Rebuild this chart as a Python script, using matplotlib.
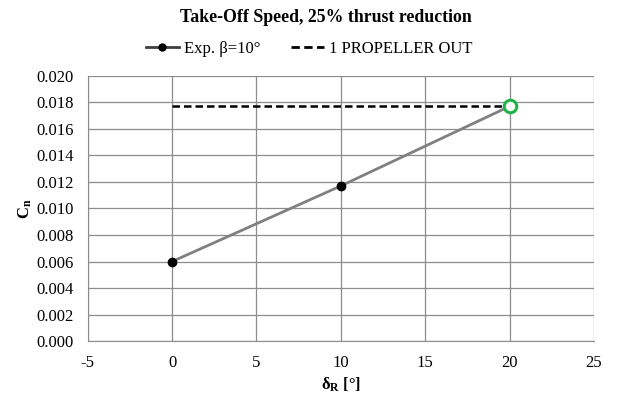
import matplotlib.pyplot as plt

plt.rcParams['font.family'] = ['Liberation Serif', 'DejaVu Serif']
plt.rcParams['axes.unicode_minus'] = False
plt.rcParams['mathtext.fontset'] = 'custom'
plt.rcParams['mathtext.rm'] = 'Liberation Serif'
plt.rcParams['mathtext.it'] = 'Liberation Serif:italic'
plt.rcParams['mathtext.bf'] = 'Liberation Serif:bold'

# data
delta_r = [0, 10, 20]
cn_exp = [0.0060, 0.0117, 0.0177]
prop_out_x = [0, 20]
prop_out_y = [0.0177, 0.0177]
x_ticks = [-5, 0, 5, 10, 15, 20, 25]
y_ticks = [0.000, 0.002, 0.004, 0.006, 0.008, 0.010, 0.012, 0.014, 0.016, 0.018, 0.020]

fig = plt.figure(figsize=(6.18, 3.99), dpi=100)
ax = fig.add_axes([0.142, 0.145, 0.819, 0.665])

grid_c = '#8c8c8c'
for x in x_ticks:
    ax.axvline(x, color=grid_c, lw=0.9, zorder=0)
for y in y_ticks:
    ax.axhline(y, color=grid_c, lw=0.9, zorder=0)

ax.plot(prop_out_x, prop_out_y, color='black', lw=1.8, ls=(0, (3, 1.6)),
        label='1 PROPELLER OUT', zorder=2)
ax.plot(delta_r, cn_exp, color='#808080', lw=2, zorder=3)
ax.plot(delta_r[:-1], cn_exp[:-1], 'o', color='black', ms=6, zorder=4)
ax.plot(delta_r[-1:], cn_exp[-1:], 'o', mfc='white', mec='#1fb34a', mew=2.2,
        ms=9, zorder=5)

# legend handles
h1, = ax.plot([], [], color='#404040', lw=2, marker='o', mfc='black', mec='black', ms=5)
h2, = ax.plot([], [], color='black', lw=2, ls=(0, (3, 1.6)))
fig.legend([h1, h2], ['Exp. β=10°', '1 PROPELLER OUT'], loc='center',
           bbox_to_anchor=(0.50, 0.878), ncol=2, frameon=False, fontsize=12,
           handlelength=2.0, handletextpad=0.3, columnspacing=1.8)

ax.set_xlim(-5, 25)
ax.set_ylim(0, 0.020)
ax.set_xticks(x_ticks)
ax.set_yticks(y_ticks)
ax.set_yticklabels([f'{v:.3f}' for v in y_ticks])
ax.tick_params(length=0, labelsize=12, pad=10)
for s in ax.spines.values():
    s.set_visible(False)
ax.spines['left'].set_visible(True)
ax.spines['left'].set_color(grid_c)
ax.spines['bottom'].set_visible(True)
ax.spines['bottom'].set_color(grid_c)

ax.set_xlabel(r'$\mathbf{\delta}_\mathbf{R}$ [°]', fontsize=12, fontweight='bold', labelpad=3)
ax.set_ylabel(r'$\mathbf{C_n}$', fontsize=12, labelpad=2)
fig.suptitle('Take-Off Speed, 25% thrust reduction', x=0.528, y=0.978,
             fontsize=12.8, fontweight='bold')

fig.savefig('out.png', dpi=100)
